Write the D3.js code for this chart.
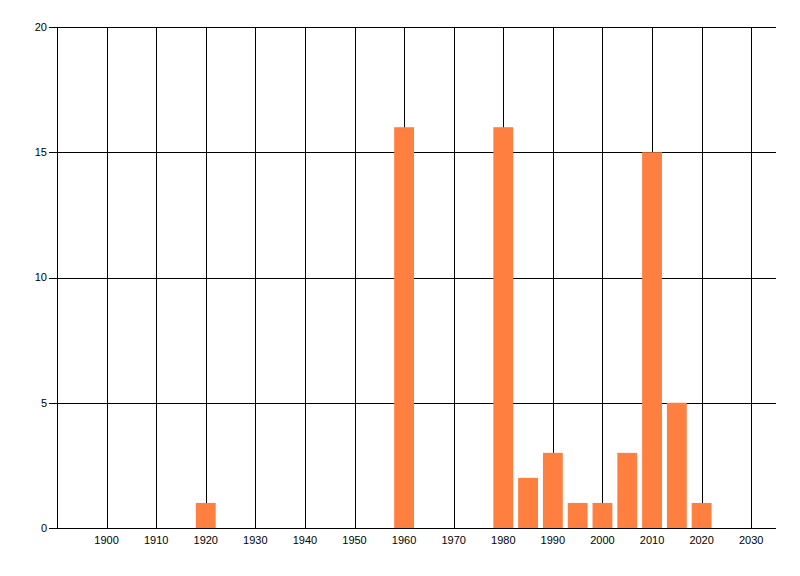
<!DOCTYPE html>
<html>
<head>
<meta charset="utf-8">
<script src="https://cdn.jsdelivr.net/npm/d3@7"></script>
<style>
  body { margin: 0; background: #fff; }
  text { font-family: "Liberation Sans", Arial, sans-serif; font-size: 11px; fill: #000; }
</style>
</head>
<body>
<div id="chart"></div>
<script>
'use strict';

// years of each bar and their counts
const years = [1920, 1960, 1980, 1985, 1990, 1995, 2000, 2005, 2010, 2015, 2020];
const counts = [1, 16, 16, 2, 3, 1, 1, 3, 15, 5, 1];
const xTicks = [1900, 1910, 1920, 1930, 1940, 1950, 1960, 1970, 1980, 1990, 2000, 2010, 2020, 2030];
const yTicks = [0, 5, 10, 15, 20];

function drawChart() {
    let width = 800;
    let height = 576;
    let left = 57, right = 776, top = 27, bottom = 528;

    let svg = d3.select('#chart').append('svg')
        .attr('width', width)
        .attr('height', height);

    let x = d3.scaleLinear().domain([1890, 2035]).range([left, right]);
    let y = d3.scaleLinear().domain([0, 20]).range([bottom, top]);

    let g = svg.append('g');

    // vertical grid lines
    g.selectAll('line.vgrid').data(xTicks).enter().append('line')
        .attr('class', 'vgrid')
        .attr('x1', function (d) { return Math.round(x(d)) + 0.5; })
        .attr('x2', function (d) { return Math.round(x(d)) + 0.5; })
        .attr('y1', top)
        .attr('y2', bottom)
        .style('stroke', '#000');

    // horizontal grid lines with small ticks on the left
    g.selectAll('line.hgrid').data(yTicks).enter().append('line')
        .attr('class', 'hgrid')
        .attr('x1', left - 8)
        .attr('x2', right)
        .attr('y1', function (d) { return Math.round(y(d)) + 0.5; })
        .attr('y2', function (d) { return Math.round(y(d)) + 0.5; })
        .style('stroke', '#000');

    // left axis line
    g.append('line')
        .attr('x1', left + 0.5).attr('x2', left + 0.5)
        .attr('y1', top).attr('y2', bottom)
        .style('stroke', '#000');

    // bars
    let barW = x(1894) - x(1890);
    g.selectAll('rect').data(counts).enter().append('rect')
        .attr('x', function (d, i) { return x(years[i]) - barW / 2; })
        .attr('y', function (d) { return y(d); })
        .attr('width', barW)
        .attr('height', function (d) { return bottom - y(d); })
        .style('fill', '#ff7f40');

    // y labels
    g.selectAll('text.ylab').data(yTicks).enter().append('text')
        .attr('class', 'ylab')
        .attr('x', left - 10)
        .attr('y', function (d) { return y(d); })
        .attr('dy', '0.35em')
        .attr('text-anchor', 'end')
        .text(function (d) { return d; });

    // x labels
    g.selectAll('text.xlab').data(xTicks).enter().append('text')
        .attr('class', 'xlab')
        .attr('x', function (d) { return x(d); })
        .attr('y', bottom + 12)
        .attr('dy', '0.35em')
        .attr('text-anchor', 'middle')
        .text(function (d) { return d; });
}

drawChart();
</script>
</body>
</html>
